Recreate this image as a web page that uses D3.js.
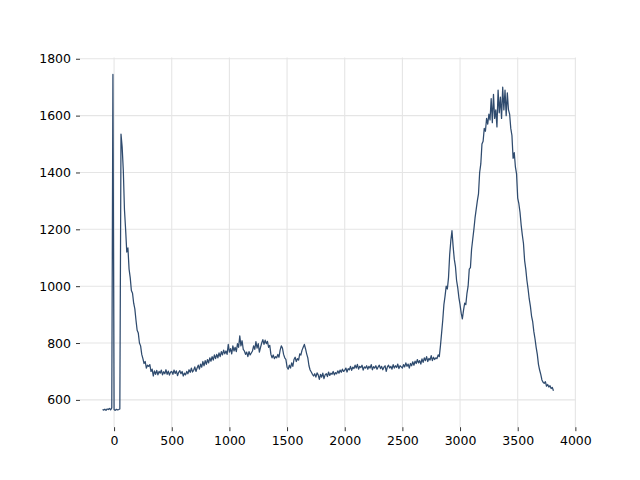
<!DOCTYPE html>
<html>
<head>
<meta charset="utf-8">
<script src="https://cdn.jsdelivr.net/npm/d3@7"></script>
<style>
  html, body { margin: 0; padding: 0; background: #fff; }
  svg { display: block; }
  .tick text { font-family: "DejaVu Sans", sans-serif; font-size: 12.5px; fill: #000; }
</style>
</head>
<body>
<svg id="chart" width="640" height="480"></svg>
<script>
// ---- data ----
const xStart = -100;
const xStep = 10;
const values = [
  566, 564, 567, 563, 568, 566, 570, 565, 572, 1745,
  566, 563, 567, 565, 566, 568, 1535, 1490, 1408, 1270,
  1200, 1120, 1135, 1060, 1030, 985, 975, 940, 920, 880,
  845, 835, 800, 790, 760, 745, 728, 735, 712, 722,
  718, 724, 700, 708, 684, 702, 690, 704, 688, 700,
  694, 705, 688, 699, 692, 706, 690, 701, 687, 698,
  700, 690, 705, 693, 702, 685, 697, 703, 692, 700,
  684, 694, 688, 700, 692, 706, 697, 712, 698, 704,
  716, 700, 712, 722, 708, 726, 715, 735, 720, 738,
  725, 742, 730, 748, 736, 752, 740, 758, 745, 760,
  748, 765, 752, 770, 758, 775, 762, 772, 760, 795,
  768, 780, 762, 790, 772, 785, 770, 798, 785, 825,
  790, 808, 778, 772, 760, 768, 752, 770, 758, 765,
  772, 790, 778, 805, 782, 798, 768, 785, 800, 812,
  795, 810, 798, 806, 785, 792, 760, 748, 758, 745,
  752, 748, 760, 750, 775, 790, 782, 760, 748, 742,
  715, 708, 722, 712, 730, 718, 742, 750, 735, 745,
  740, 762, 758, 775, 785, 795, 780, 762, 748, 720,
  705, 698, 690, 684, 692, 680, 695, 688, 672, 690,
  680, 694, 675, 688, 692, 682, 698, 686, 694, 690,
  700, 688, 696, 692, 702, 694, 705, 697, 708, 700,
  704, 712, 698, 710, 706, 718, 704, 715, 710, 722,
  712, 725, 708, 718, 714, 722, 705, 716, 712, 720,
  708, 718, 712, 724, 706, 717, 712, 720, 708, 716,
  722, 710, 718, 706, 715, 720, 700, 716, 722, 712,
  718, 708, 724, 712, 720, 714, 726, 710, 720, 716,
  712, 724, 716, 730, 718, 726, 712, 728, 720, 734,
  722, 736, 728, 742, 730, 738, 726, 744, 732, 748,
  738, 752, 735, 746, 740, 756, 738, 750, 742, 748,
  745, 758, 752, 790, 835, 880, 935, 965, 1000, 990,
  1030, 1110, 1160, 1195, 1140, 1095, 1070, 1020, 995, 960,
  935, 905, 885, 915, 940, 935, 975, 1000, 1060, 1065,
  1130, 1165, 1200, 1240, 1270, 1300, 1325, 1400, 1430, 1500,
  1510, 1555, 1545, 1590, 1570, 1605, 1585, 1660, 1575, 1675,
  1590, 1620, 1560, 1690, 1610, 1665, 1590, 1700, 1620, 1690,
  1600, 1680, 1620, 1605, 1555, 1530, 1450, 1470, 1420, 1395,
  1310, 1290, 1260, 1215, 1180, 1150, 1090, 1060, 1020, 990,
  955, 930, 895, 875, 840, 815, 785, 760, 725, 705,
  690, 670, 662, 658, 664, 648, 654, 645, 650, 640,
  644, 632
];
const xTicks = [0, 500, 1000, 1500, 2000, 2500, 3000, 3500, 4000];
const yTicks = [600, 800, 1000, 1200, 1400, 1600, 1800];

const data = values.map((v, i) => ({ x: xStart + i * xStep, y: v }));

// ---- layout ----
const W = 640, H = 480;
const mLeft = 80, mRight = 576, mTop = 57.6, mBottom = 427.2;

const xExt = d3.extent(data, d => d.x);
const yExt = d3.extent(data, d => d.y);
const xPad = (xExt[1] - xExt[0]) * 0.05;
const yPad = (yExt[1] - yExt[0]) * 0.05;

const x = d3.scaleLinear().domain([xExt[0] - xPad, xExt[1] + xPad]).range([mLeft, mRight]);
const y = d3.scaleLinear().domain([yExt[0] - yPad, yExt[1] + yPad]).range([mBottom, mTop]);

const svg = d3.select("#chart");

// grid
const grid = svg.append("g");
grid.selectAll("line.gx").data(xTicks).enter().append("line")
  .attr("class", "gx")
  .attr("x1", d => x(d)).attr("x2", d => x(d))
  .attr("y1", mTop).attr("y2", mBottom)
  .attr("stroke", "#e5e5e5").attr("stroke-width", 1.1);
grid.selectAll("line.gy").data(yTicks).enter().append("line")
  .attr("class", "gy")
  .attr("y1", d => y(d)).attr("y2", d => y(d))
  .attr("x1", mLeft).attr("x2", mRight)
  .attr("stroke", "#e5e5e5").attr("stroke-width", 1.1);

// line
const line = d3.line().x(d => x(d.x)).y(d => y(d.y));
svg.append("path").datum(data)
  .attr("d", line)
  .attr("fill", "none")
  .attr("stroke", "#2f4b6e")
  .attr("stroke-width", 1.25)
  .attr("stroke-linejoin", "round");

// axes
const xAxis = d3.axisBottom(x).tickValues(xTicks).tickFormat(d3.format("d")).tickSize(4).tickPadding(5);
const yAxis = d3.axisLeft(y).tickValues(yTicks).tickFormat(d3.format("d")).tickSize(4).tickPadding(5);

const gx = svg.append("g").attr("transform", `translate(0,${mBottom})`).call(xAxis);
const gy = svg.append("g").attr("transform", `translate(${mLeft},0)`).call(yAxis);
[gx, gy].forEach(g => {
  g.select(".domain").remove();
  g.selectAll(".tick line").attr("stroke", "#333").attr("stroke-width", 1);
});
</script>
</body>
</html>
